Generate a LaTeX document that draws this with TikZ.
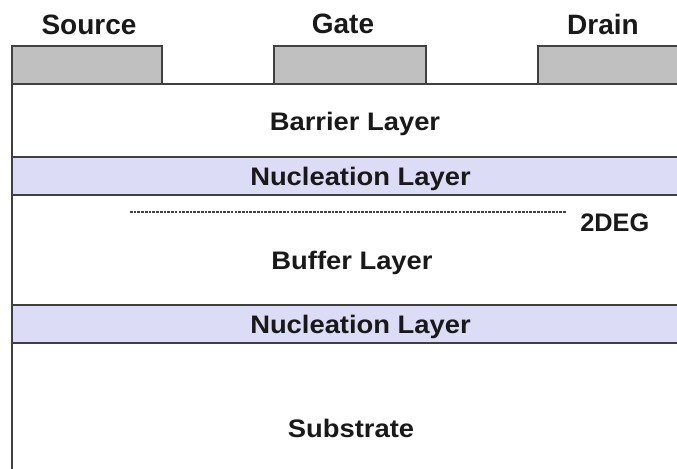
\documentclass[tikz,border=0pt]{standalone}
\usepackage{fontspec}
\setmainfont{Liberation Sans}
\definecolor{bandfill}{HTML}{DCDCF6}
\definecolor{contactfill}{HTML}{C0C0C0}
\definecolor{edge}{HTML}{404040}
\begin{document}
\begin{tikzpicture}[x=0.75pt,y=-0.75pt,
  edgeline/.style={draw=edge,line width=1.1pt},
  contact/.style={fill=contactfill,draw=edge,line width=1.1pt},
  band/.style={fill=bandfill,draw=edge,line width=1.1pt},
  toplabel/.style={anchor=base,inner sep=0pt,font=\fontsize{21}{24}\selectfont\bfseries,text=black!90},
  layerlabel/.style={anchor=base,inner sep=0pt,font=\fontsize{19}{22}\selectfont\bfseries,text=black!90,xscale=1.08}]
\useasboundingbox (0,0) rectangle (677,468);
% contacts
\path[contact] (12,46) rectangle (162,84);
\path[contact] (274,46) rectangle (426,84);
\path[contact] (538,46) -- (680,46) -- (680,84) -- (538,84) -- cycle;
% bands
\path[band] (12,157) rectangle (680,195);
\path[band] (12,305) rectangle (680,343);
% top line and left edge
\coordinate (tl) at (12,84);
\coordinate (tr) at (680,84);
\coordinate (bl) at (12,470);
\draw[edgeline] (tr) -- (tl) -- (bl);
% labels
\node[toplabel] (src) at (89,34) {Source};
\node[toplabel] (gate) at (343,33) {Gate};
\node[toplabel] (drain) at (603,34) {Drain};
\node[layerlabel] (barrier) at (355,130) {Barrier Layer};
\node[layerlabel] (nuc1) at (360.5,185) {Nucleation Layer};
\node[layerlabel] (buffer) at (352,269) {Buffer Layer};
\node[layerlabel] (nuc2) at (360.5,333) {Nucleation Layer};
\node[layerlabel] (sub) at (351,437) {Substrate};
\node[anchor=base west,inner sep=0pt,font=\fontsize{19}{22}\selectfont\bfseries,text=black!90] (deg) at (580,231) {2DEG};
\coordinate (d1) at (130,212);
\coordinate (d2) at (566,212);
\draw[edge,line width=1.3pt,dash pattern=on 2pt off 0.8pt] (d1) -- (d2);
\end{tikzpicture}
\end{document}
